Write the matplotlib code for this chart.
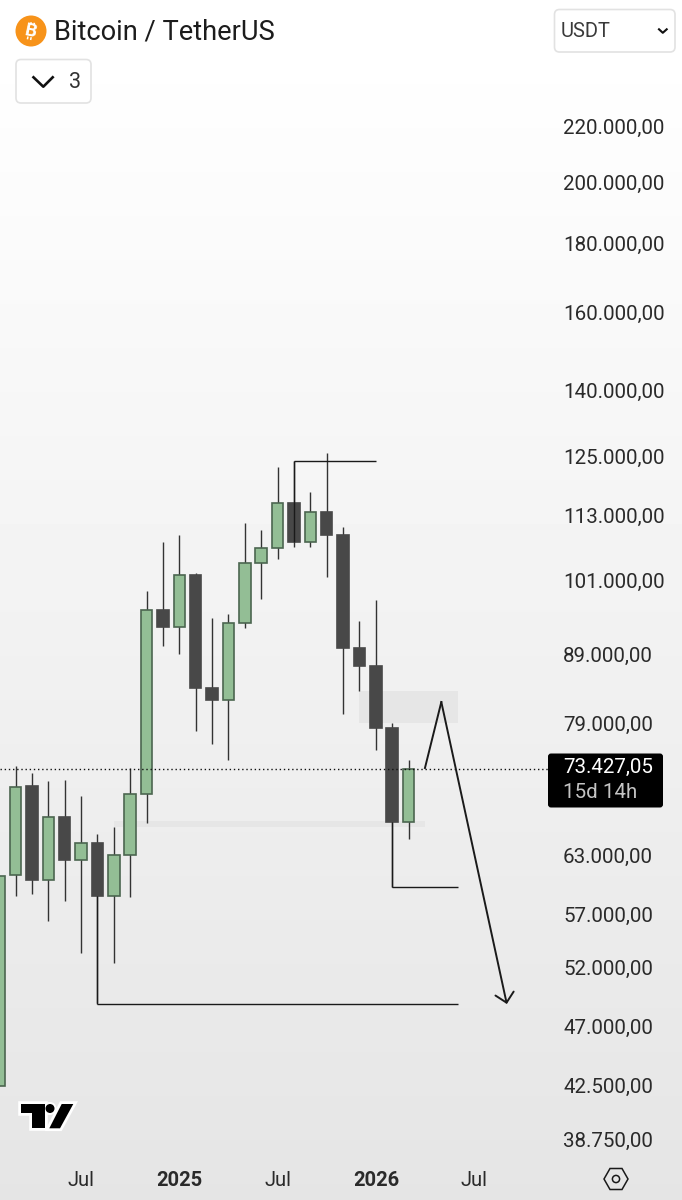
import numpy as np
import matplotlib
matplotlib.use("Agg")
import matplotlib.pyplot as plt
from matplotlib.patches import Circle, FancyBboxPatch, Polygon, Rectangle
from matplotlib.ticker import NullLocator

plt.rcParams['font.family'] = ['Roboto', 'DejaVu Sans']

# monthly candles BTC/USDT, Feb 2024 .. Mar 2026
months = ["2024-02", "2024-03", "2024-04", "2024-05", "2024-06", "2024-07", "2024-08", "2024-09", "2024-10",
          "2024-11", "2024-12", "2025-01", "2025-02", "2025-03", "2025-04", "2025-05", "2025-06", "2025-07",
          "2025-08", "2025-09", "2025-10", "2025-11", "2025-12", "2026-01", "2026-02", "2026-03"]
opens = [42609, 61144, 71221, 60684, 67535, 62769, 64591, 59012, 63309, 70323, 96350, 93583, 102307, 84335,
         82533, 94176, 104485, 107152, 115684, 108205, 113912, 109567, 90320, 87576, 78706, 66959]
highs = [61070, 73742, 72863, 71908, 71994, 70082, 65663, 66456, 73528, 99538, 108315, 109623, 102710, 95038,
         95738, 111901, 110453, 123171, 124445, 117885, 126163, 111137, 94597, 98015, 79342, 74505]
lows = [42609, 59043, 59215, 56565, 58478, 53492, 49124, 52583, 58941, 66878, 90536, 89303, 78302, 76616,
        74505, 93470, 98233, 105204, 107336, 107336, 102008, 80617, 83858, 75754, 59960, 65103]
closes = [61070, 71172, 60684, 67535, 62769, 64591, 59012, 63276, 70287, 96300, 93583, 102307, 84291, 82533,
          94176, 104485, 107097, 115684, 108205, 113912, 109567, 90273, 87531, 78706, 66959, 73427]

last_price = 73427.05
price_ticks = [220000, 200000, 180000, 160000, 140000, 125000, 113000, 101000, 89000, 79000, 63000, 57000,
               52000, 47000, 42500, 38750]
price_labels = ["220.000,00", "200.000,00", "180.000,00", "160.000,00", "140.000,00", "125.000,00", "113.000,00",
                "101.000,00", "89.000,00", "79.000,00", "63.000,00", "57.000,00", "52.000,00", "47.000,00",
                "42.500,00", "38.750,00"]
time_ticks = [5, 11, 17, 23, 29]
time_labels = ["Jul", "2025", "Jul", "2026", "Jul"]
time_bold = ["2025", "2026"]

# hand drawn levels on the chart (month index, price)
top_level = ([18, 23], 124445)
mid_level = ([24, 28], 59930)
low_level = ([6, 28], 49040)
zone_x = [22, 28]
zone_y = [79383, 83858]
band_x = [7, 26]
band_y = [66421, 67108]
path_x = [26, 27, 31]
path_y = [73490, 82293, 49040]

GREEN = '#93be95'
GREEN_EDGE = '#4c6650'
DARK = '#484848'
TEXT = '#2a2a2a'

W, H = 682, 1200
fig = plt.figure(figsize=(W / 100, H / 100), dpi=100)

# background fade
bg = fig.add_axes([0, 0, 1, 1], zorder=0)
shade = np.interp(np.arange(H), [0, 40, 1200], [1.0, 1.0, 0.897]).reshape(-1, 1)
bg.imshow(shade, cmap='gray', vmin=0, vmax=1, aspect='auto')
bg.axis('off')

ax = fig.add_axes([0, 0, 1, 1], zorder=1)
ax.patch.set_visible(False)
ax.set_yscale('log')
ax.set_xlim(0.8 / 16.375, 682.8 / 16.375)
ax.set_ylim(35047, 274119)

ax.add_patch(Rectangle((zone_x[0], zone_y[0]), zone_x[1] - zone_x[0], zone_y[1] - zone_y[0],
                       facecolor='#e6e6e6', edgecolor='none', zorder=1))
ax.add_patch(Rectangle((band_x[0], band_y[0]), band_x[1] - band_x[0], band_y[1] - band_y[0],
                       facecolor='#e6e6e6', edgecolor='none', zorder=1))

x = np.arange(len(months))
for i in x:
    up = closes[i] >= opens[i]
    if highs[i] > lows[i]:
        ax.vlines(i, lows[i], highs[i], color='#333333', linewidth=1.0, zorder=2)
    ax.bar(i, abs(closes[i] - opens[i]), bottom=min(opens[i], closes[i]), width=0.70,
           color=GREEN if up else DARK, edgecolor=GREEN_EDGE if up else DARK, linewidth=1.2, zorder=3)

ax.axhline(last_price, xmax=548 / W, color='#111111', linestyle=(0, (1, 2)), linewidth=1.0, zorder=5)

line_kw = dict(color='#1a1a1a', linewidth=1.0, zorder=6, solid_capstyle='butt')
ax.plot([top_level[0][0], top_level[0][0]], [closes[18], top_level[1]], **line_kw)
ax.plot(top_level[0], [top_level[1], top_level[1]], **line_kw)
ax.plot([mid_level[0][0], mid_level[0][0]], [closes[24], mid_level[1]], **line_kw)
ax.plot(mid_level[0], [mid_level[1], mid_level[1]], **line_kw)
ax.plot([low_level[0][0], low_level[0][0]], [closes[6], low_level[1]], **line_kw)
ax.plot(low_level[0], [low_level[1], low_level[1]], **line_kw)
ax.plot(path_x[:2], path_y[:2], color='#1a1a1a', linewidth=1.4, zorder=6)
ax.annotate('', xy=(path_x[2], path_y[2]), xytext=(path_x[1], path_y[1]), zorder=6,
            arrowprops=dict(arrowstyle='->,head_length=6.7,head_width=6.7', mutation_scale=1, shrinkA=0, shrinkB=0,
                            color='#1a1a1a', linewidth=1.4))

for s in ax.spines.values():
    s.set_visible(False)
ax.yaxis.tick_right()
ax.set_yticks(price_ticks, price_labels)
ax.yaxis.set_minor_locator(NullLocator())
ax.tick_params(axis='y', length=0, pad=-(W - 563) * 0.72, labelsize=14.8, labelcolor=TEXT)
for t in ax.get_yticklabels():
    t.set_verticalalignment('center')
ax.set_xticks(time_ticks, time_labels)
ax.tick_params(axis='x', length=0, pad=-(H - 1171) * 0.72, labelsize=14.5, labelcolor=TEXT)
for t in ax.get_xticklabels():
    t.set_fontweight('bold' if t.get_text() in time_bold else 'normal')

# app chrome, in pixel coordinates
ui = fig.add_axes([0, 0, 1, 1], zorder=2)
ui.patch.set_visible(False)
ui.set_xlim(0, W)
ui.set_ylim(H, 0)
ui.axis('off')

ui.add_patch(FancyBboxPatch((548, 753.5), 115, 54, boxstyle='round,pad=0,rounding_size=3',
                            facecolor='black', edgecolor='none'))
ui.text(563, 767, "73.427,05", color='white', fontsize=14.8, va='center', ha='left')
ui.text(563, 792, "15d 14h", color='#c4c4c4', fontsize=14.8, va='center', ha='left')

# coin icon, the B with its four small strokes
ui.add_patch(Circle((31, 31), 15.5, facecolor='#f7931a', edgecolor='none'))
ui.text(31, 31.5, "B", color='white', fontsize=13.5, fontweight='bold', rotation=-12, ha='center', va='center')
for (x0, y0) in [(30.6, 25), (33.8, 25.6), (27.4, 39.3), (30.6, 40)]:
    ui.plot([x0, x0 + 0.6], [y0, y0 - 2.8], color='white', linewidth=1.1, solid_capstyle='butt')

ui.text(54, 32, "Bitcoin / TetherUS", color='#1c1c1c', fontsize=19.6, ha='left', va='center')

for (bx, by, bw, bh) in [(16, 59.5, 75, 43.5), (554.5, 9.5, 120.5, 42.5)]:
    ui.add_patch(FancyBboxPatch((bx, by), bw, bh, boxstyle='round,pad=0,rounding_size=5',
                                facecolor='white', edgecolor='#e2e2e2', linewidth=1.2))
ui.plot([33.5, 43.3, 52.7], [77.3, 86.7, 77.3], color='#111111', linewidth=1.9)
ui.text(75.5, 82.5, "3", color='#333333', fontsize=15.5, ha='center', va='center')
ui.text(561, 31.5, "USDT", color='#3a3a3a', fontsize=14.5, ha='left', va='center')
ui.plot([659, 662.8, 666.7], [29.3, 32.8, 29.3], color='#111111', linewidth=1.5)

logo_t = [(21, 1104), (45, 1104), (45, 1128.3), (32.3, 1128.3), (32.3, 1113.3), (21, 1113.3)]
logo_s = [(61.7, 1104), (73.3, 1104), (60, 1128.3), (49.3, 1128.3)]
for shape in (logo_t, logo_s):
    ui.add_patch(Polygon(shape, facecolor='white', edgecolor='white', linewidth=4, joinstyle='miter'))
ui.add_patch(Circle((50, 1108.5), 6.5, facecolor='white', edgecolor='none'))
for shape in (logo_t, logo_s):
    ui.add_patch(Polygon(shape, facecolor='black', edgecolor='none'))
ui.add_patch(Circle((50, 1108.5), 4.5, facecolor='black', edgecolor='none'))

hexagon = [(604, 1179), (610, 1168.5), (622, 1168.5), (628, 1179), (622, 1189.5), (610, 1189.5)]
ui.add_patch(Polygon(hexagon, facecolor='none', edgecolor='#1a1a1a', linewidth=1.1))
ui.add_patch(Circle((616, 1179), 3.6, facecolor='none', edgecolor='#1a1a1a', linewidth=1.1))

fig.savefig("out.png", dpi=100)
